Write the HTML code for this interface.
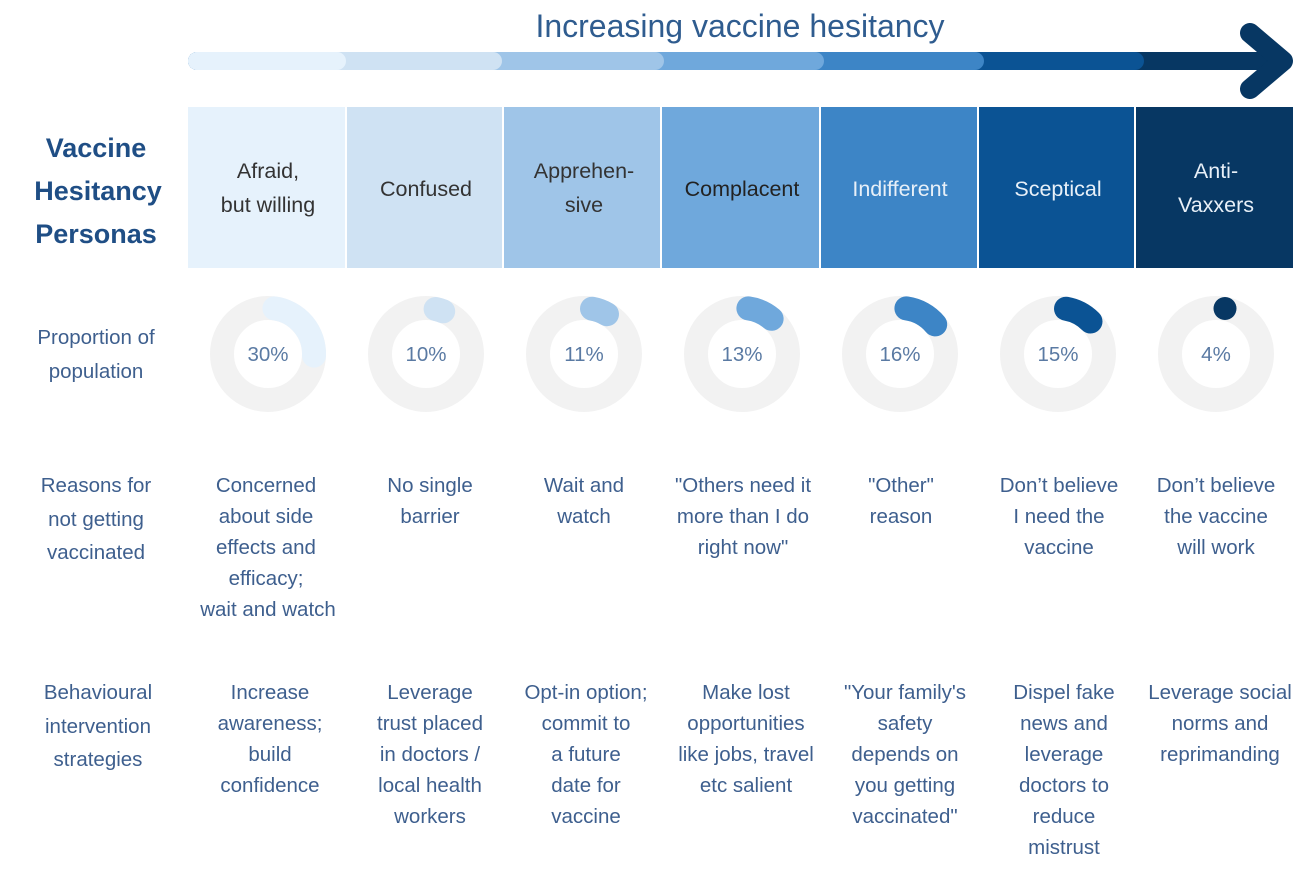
<!DOCTYPE html>
<html><head><meta charset="utf-8"><style>
html,body{margin:0;padding:0;background:#fff;}
svg{display:block;}
text{font-family:"Liberation Sans",sans-serif;}
.b{font-size:20.5px;fill:#3e5f8e;text-anchor:middle;}
.p{font-size:20.5px;fill:#5a7aa3;text-anchor:middle;}
.h{font-size:21.5px;text-anchor:middle;}
</style></head><body>
<svg width="1309" height="870" viewBox="0 0 1309 870" xmlns="http://www.w3.org/2000/svg">
<text x="740" y="37" style="font-size:32px;fill:#2f5c8f;text-anchor:middle;">Increasing vaccine hesitancy</text>
<!-- arrow bar -->
<g stroke-linecap="round" stroke-width="18">
<line x1="197" y1="61" x2="1270" y2="61" stroke="#073763"/>
<line x1="197" y1="61" x2="1135" y2="61" stroke="#0b5394"/>
<line x1="197" y1="61" x2="975" y2="61" stroke="#3d85c6"/>
<line x1="197" y1="61" x2="815" y2="61" stroke="#6fa8dc"/>
<line x1="197" y1="61" x2="655" y2="61" stroke="#9fc5e8"/>
<line x1="197" y1="61" x2="493" y2="61" stroke="#cfe2f3"/>
<line x1="197" y1="61" x2="337" y2="61" stroke="#e6f2fc"/>
</g>
<polyline points="1250,33 1283,61 1250,89" fill="none" stroke="#073763" stroke-width="20" stroke-linecap="round" stroke-linejoin="round"/>
<!-- boxes -->
<rect x="188" y="107" width="157" height="161" fill="#e6f2fc"/>
<rect x="347" y="107" width="155" height="161" fill="#cfe2f3"/>
<rect x="504" y="107" width="156" height="161" fill="#9fc5e8"/>
<rect x="662" y="107" width="157" height="161" fill="#6fa8dc"/>
<rect x="821" y="107" width="156" height="161" fill="#3d85c6"/>
<rect x="979" y="107" width="155" height="161" fill="#0b5394"/>
<rect x="1136" y="107" width="157" height="161" fill="#073763"/>
<g class="h" fill="#333">
<text class="h" x="268" y="178" fill="#333">Afraid,</text>
<text class="h" x="268" y="212" fill="#333">but willing</text>
<text class="h" x="426" y="196" fill="#333">Confused</text>
<text class="h" x="584" y="178" fill="#333">Apprehen-</text>
<text class="h" x="584" y="212" fill="#333">sive</text>
<text class="h" x="742" y="196" fill="#222">Complacent</text>
<text class="h" x="900" y="196" fill="#e8f0f8">Indifferent</text>
<text class="h" x="1058" y="196" fill="#e8f0f8">Sceptical</text>
<text class="h" x="1216" y="178" fill="#e8f0f8">Anti-</text>
<text class="h" x="1216" y="212" fill="#e8f0f8">Vaxxers</text>
</g>
<g style="font-size:27px;font-weight:bold;fill:#1f4e85;text-anchor:middle;">
<text x="96" y="157">Vaccine</text>
<text x="98" y="200">Hesitancy</text>
<text x="96" y="243">Personas</text>
</g>
<!-- donuts -->
<g fill="none" stroke="#f2f2f2" stroke-width="24">
<circle cx="268" cy="354" r="46"/><circle cx="426" cy="354" r="46"/><circle cx="584" cy="354" r="46"/>
<circle cx="742" cy="354" r="46"/><circle cx="900" cy="354" r="46"/><circle cx="1058" cy="354" r="46"/><circle cx="1216" cy="354" r="46"/>
</g>
<g fill="none" stroke-width="24" stroke-linecap="round">
<path d="M274.4,308.4 A46,46 0 0 1 314,355.6" stroke="#e6f2fc"/>
<path d="M435.6,309 A46,46 0 0 1 443.2,311.3" stroke="#cfe2f3"/>
<path d="M592,308.7 A46,46 0 0 1 607,314.2" stroke="#9fc5e8"/>
<path d="M748.4,308.4 A46,46 0 0 1 771.6,318.8" stroke="#6fa8dc"/>
<path d="M906.4,308.4 A46,46 0 0 1 935.2,324.4" stroke="#3d85c6"/>
<path d="M1066,308.7 A46,46 0 0 1 1090.5,321.5" stroke="#0b5394"/>
</g>
<circle cx="1225" cy="308.5" r="11.5" fill="#073763"/>
<g>
<text class="p" x="268" y="361">30%</text><text class="p" x="426" y="361">10%</text><text class="p" x="584" y="361">11%</text>
<text class="p" x="742" y="361">13%</text><text class="p" x="900" y="361">16%</text><text class="p" x="1058" y="361">15%</text><text class="p" x="1216" y="361">4%</text>
</g>
<!-- left labels -->
<text class="b" x="96" y="344">Proportion of</text>
<text class="b" x="96" y="378">population</text>
<text class="b" x="96" y="492">Reasons for</text>
<text class="b" x="96" y="526">not getting</text>
<text class="b" x="96" y="559">vaccinated</text>
<text class="b" x="98" y="699">Behavioural</text>
<text class="b" x="98" y="733">intervention</text>
<text class="b" x="98" y="766">strategies</text>
<!-- reasons -->
<text class="b" x="266" y="492">Concerned</text>
<text class="b" x="266" y="523">about side</text>
<text class="b" x="266" y="554">effects and</text>
<text class="b" x="266" y="585">efficacy;</text>
<text class="b" x="268" y="616">wait and watch</text>
<text class="b" x="430" y="492">No single</text>
<text class="b" x="430" y="523">barrier</text>
<text class="b" x="584" y="492">Wait and</text>
<text class="b" x="584" y="523">watch</text>
<text class="b" x="743" y="492">"Others need it</text>
<text class="b" x="743" y="523">more than I do</text>
<text class="b" x="743" y="554">right now"</text>
<text class="b" x="901" y="492">"Other"</text>
<text class="b" x="901" y="523">reason</text>
<text class="b" x="1059" y="492">Don’t believe</text>
<text class="b" x="1059" y="523">I need the</text>
<text class="b" x="1059" y="554">vaccine</text>
<text class="b" x="1216" y="492">Don’t believe</text>
<text class="b" x="1216" y="523">the vaccine</text>
<text class="b" x="1216" y="554">will work</text>
<!-- strategies -->
<text class="b" x="270" y="699">Increase</text>
<text class="b" x="270" y="730">awareness;</text>
<text class="b" x="270" y="761">build</text>
<text class="b" x="270" y="792">confidence</text>
<text class="b" x="430" y="699">Leverage</text>
<text class="b" x="430" y="730">trust placed</text>
<text class="b" x="430" y="761">in doctors /</text>
<text class="b" x="430" y="792">local health</text>
<text class="b" x="430" y="823">workers</text>
<text class="b" x="586" y="699">Opt-in option;</text>
<text class="b" x="586" y="730">commit to</text>
<text class="b" x="586" y="761">a future</text>
<text class="b" x="586" y="792">date for</text>
<text class="b" x="586" y="823">vaccine</text>
<text class="b" x="746" y="699">Make lost</text>
<text class="b" x="746" y="730">opportunities</text>
<text class="b" x="746" y="761">like jobs, travel</text>
<text class="b" x="746" y="792">etc salient</text>
<text class="b" x="905" y="699">"Your family's</text>
<text class="b" x="905" y="730">safety</text>
<text class="b" x="905" y="761">depends on</text>
<text class="b" x="905" y="792">you getting</text>
<text class="b" x="905" y="823">vaccinated"</text>
<text class="b" x="1064" y="699">Dispel fake</text>
<text class="b" x="1064" y="730">news and</text>
<text class="b" x="1064" y="761">leverage</text>
<text class="b" x="1064" y="792">doctors to</text>
<text class="b" x="1064" y="823">reduce</text>
<text class="b" x="1064" y="854">mistrust</text>
<text class="b" x="1220" y="699">Leverage social</text>
<text class="b" x="1220" y="730">norms and</text>
<text class="b" x="1220" y="761">reprimanding</text>
</svg>
</body></html>
